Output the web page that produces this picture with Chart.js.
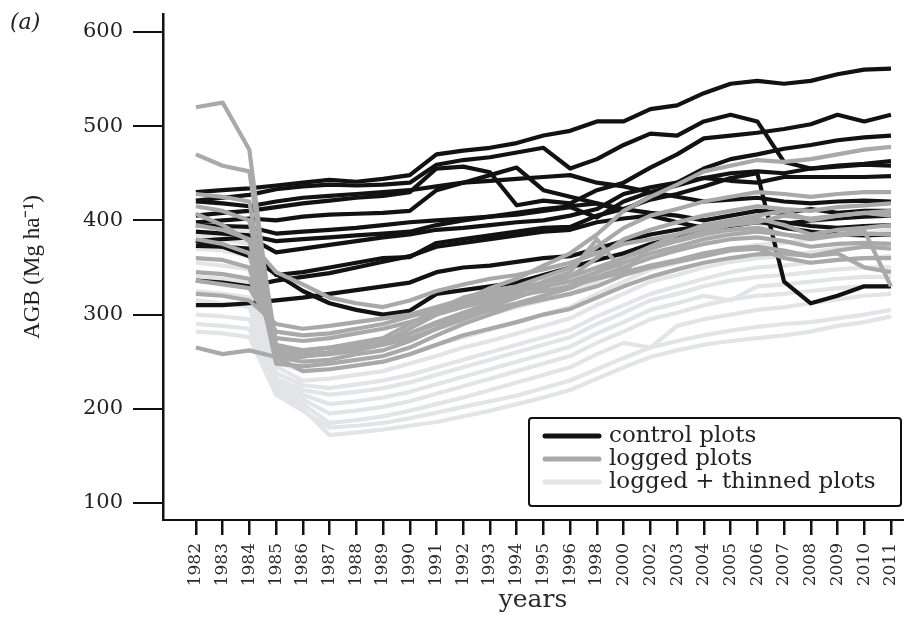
<!DOCTYPE html>
<html>
<head>
<meta charset="utf-8">
<title>AGB by plot treatment</title>
<script src="https://cdn.jsdelivr.net/npm/chart.js@4.4.1/dist/chart.umd.min.js"></script>
<style>
  html, body { margin: 0; padding: 0; background: #fff; }
  #wrap { width: 904px; height: 617px; position: relative; }
</style>
</head>
<body>
<div id="wrap"><canvas id="agbChart"></canvas></div>
<script>
// Census years (1997, 1999 and 2001 were not measured)
const years = ["1982", "1983", "1984", "1985", "1986", "1987", "1988", "1989", "1990", "1991",
  "1992", "1993", "1994", "1995", "1996", "1998", "2000", "2002", "2003", "2004",
  "2005", "2006", "2007", "2008", "2009", "2010", "2011"];

const yTicks = [100, 200, 300, 400, 500, 600];

// Control plots, AGB in Mg/ha, one row per plot
const controlPlots = [
  [430, 432, 434, 437, 440, 443, 441, 444, 448, 470, 474, 477, 482, 490, 495, 505, 505, 518, 522, 535, 545, 548, 545, 548, 555, 560, 561],
  [421, 424, 427, 433, 436, 438, 437, 438, 440, 459, 464, 467, 472, 477, 455, 465, 480, 492, 490, 505, 512, 505, 462, 455, 457, 459, 458],
  [405, 408, 410, 414, 418, 421, 424, 426, 430, 455, 457, 451, 416, 421, 418, 432, 440, 456, 470, 487, 490, 493, 497, 502, 512, 505, 512],
  [398, 400, 402, 400, 404, 406, 407, 408, 410, 432, 440, 448, 456, 432, 425, 418, 410, 425, 440, 455, 465, 470, 476, 480, 485, 488, 490],
  [395, 394, 393, 386, 388, 390, 392, 395, 398, 400, 402, 404, 406, 410, 414, 403, 420, 430, 437, 445, 450, 452, 450, 455, 458, 460, 463],
  [378, 380, 382, 366, 370, 374, 378, 382, 385, 390, 392, 395, 398, 400, 405, 412, 428, 435, 440, 445, 442, 440, 446, 446, 446, 446, 447],
  [373, 372, 370, 342, 345, 350, 355, 360, 361, 376, 380, 384, 388, 392, 393, 405, 412, 422, 428, 436, 445, 450, 335, 312, 320, 330, 330],
  [388, 386, 384, 378, 380, 382, 384, 386, 388, 395, 400, 404, 408, 412, 415, 418, 412, 408, 405, 400, 405, 410, 408, 412, 408, 410, 410],
  [336, 334, 330, 336, 340, 344, 350, 356, 362, 372, 376, 380, 384, 388, 390, 398, 402, 405, 398, 392, 395, 400, 398, 394, 392, 394, 395],
  [420, 418, 415, 420, 424, 426, 428, 430, 432, 436, 440, 442, 444, 446, 448, 440, 436, 430, 425, 420, 422, 424, 420, 418, 420, 421, 420],
  [378, 372, 362, 343, 325, 312, 305, 300, 304, 322, 326, 330, 334, 342, 350, 358, 365, 375, 382, 390, 394, 398, 396, 400, 402, 404, 405],
  [310, 310, 312, 315, 318, 322, 326, 330, 334, 345, 350, 352, 356, 360, 362, 370, 378, 385, 390, 394, 398, 400, 392, 388, 385, 384, 385]
];

// Logged plots
const loggedPlots = [
  [520, 525, 475, 252, 255, 260, 265, 270, 285, 300, 315, 328, 338, 352, 365, 385, 410, 425, 438, 452, 458, 464, 462, 465, 470, 475, 478],
  [470, 458, 452, 268, 262, 265, 270, 275, 290, 305, 318, 325, 330, 340, 350, 372, 392, 405, 412, 420, 425, 430, 428, 425, 428, 430, 430],
  [428, 425, 420, 255, 250, 252, 258, 262, 272, 285, 298, 308, 318, 328, 340, 360, 380, 390, 398, 405, 410, 415, 412, 410, 414, 416, 418],
  [415, 410, 400, 262, 258, 260, 265, 270, 280, 292, 302, 312, 322, 335, 345, 380, 345, 372, 385, 395, 400, 405, 410, 400, 405, 408, 405],
  [407, 395, 378, 345, 332, 318, 312, 308, 315, 325, 332, 338, 342, 348, 355, 365, 375, 380, 385, 392, 398, 402, 395, 385, 390, 392, 395],
  [395, 390, 380, 248, 245, 248, 252, 256, 265, 278, 290, 300, 310, 320, 330, 345, 360, 370, 378, 385, 390, 392, 385, 380, 384, 386, 385],
  [380, 375, 365, 258, 256, 258, 262, 268, 275, 285, 295, 305, 312, 320, 328, 340, 350, 360, 368, 375, 380, 382, 378, 372, 375, 376, 375],
  [360, 358, 350, 265, 262, 265, 268, 272, 280, 290, 298, 305, 310, 316, 322, 330, 342, 350, 356, 362, 368, 370, 360, 355, 358, 360, 360],
  [345, 343, 338, 275, 272, 275, 280, 285, 292, 300, 308, 315, 320, 325, 330, 338, 345, 352, 358, 365, 370, 372, 368, 362, 365, 350, 345],
  [336, 332, 328, 282, 278, 280, 285, 290, 298, 305, 312, 318, 325, 330, 335, 345, 355, 365, 372, 380, 385, 388, 385, 382, 385, 389, 330],
  [322, 320, 315, 290, 285, 288, 292, 296, 300, 308, 316, 322, 328, 334, 340, 350, 360, 372, 380, 388, 395, 398, 405, 402, 405, 408, 410],
  [265, 258, 262, 255, 240, 242, 246, 250, 258, 268, 278, 285, 292, 300, 306, 318, 330, 340, 348, 355, 360, 364, 365, 362, 368, 372, 370]
];

// Logged + thinned plots
const thinnedPlots = [
  [395, 392, 388, 262, 256, 258, 262, 268, 275, 285, 292, 300, 308, 315, 322, 335, 350, 365, 372, 380, 388, 392, 395, 398, 402, 405, 410],
  [385, 380, 375, 250, 240, 242, 246, 250, 258, 268, 276, 284, 292, 300, 308, 322, 335, 348, 355, 362, 370, 374, 376, 380, 384, 386, 390],
  [370, 368, 362, 245, 230, 232, 236, 240, 248, 256, 265, 272, 280, 288, 296, 310, 322, 335, 342, 350, 356, 360, 362, 366, 370, 372, 375],
  [355, 352, 348, 238, 225, 222, 226, 230, 236, 244, 252, 260, 268, 276, 284, 298, 310, 322, 330, 338, 345, 350, 352, 355, 358, 360, 362],
  [340, 338, 335, 232, 220, 215, 218, 222, 228, 236, 244, 252, 260, 268, 276, 290, 302, 315, 322, 330, 336, 340, 342, 345, 348, 350, 350],
  [325, 322, 318, 228, 215, 205, 208, 212, 218, 226, 234, 242, 250, 258, 266, 280, 292, 305, 312, 320, 315, 330, 332, 335, 338, 340, 340],
  [315, 312, 308, 225, 210, 195, 198, 202, 208, 216, 224, 232, 240, 248, 256, 270, 282, 295, 302, 310, 316, 320, 322, 325, 328, 330, 330],
  [300, 298, 295, 222, 205, 185, 188, 192, 198, 205, 212, 220, 228, 236, 244, 258, 270, 265, 288, 295, 300, 305, 308, 312, 316, 320, 322],
  [290, 288, 285, 218, 200, 172, 175, 178, 182, 186, 192, 198, 205, 212, 220, 232, 244, 255, 262, 268, 272, 275, 278, 282, 288, 292, 298],
  [282, 280, 276, 215, 198, 180, 182, 185, 190, 196, 202, 208, 214, 222, 230, 242, 254, 265, 272, 278, 283, 287, 290, 292, 296, 300, 305]
];

const groupNames = ["control plots", "logged plots", "logged + thinned plots"];
const groupColours = ["#121212", "#a9a9a9", "#e2e4e7"];

// Turn one group of plots into line datasets
function makeDatasets(group, name, colour, order) {
  return group.map((values, n) => ({
    label: name + " " + (n + 1),
    data: values.map((v, i) => ({ x: i, y: v })),
    borderColor: colour,
    borderWidth: 4.2,
    pointRadius: 0,
    fill: false,
    tension: 0,
    borderJoinStyle: "round",
    order: order
  }));
}

const datasets = [
  ...makeDatasets(loggedPlots, groupNames[1], groupColours[1], 1),
  ...makeDatasets(controlPlots, groupNames[0], groupColours[0], 2),
  ...makeDatasets(thinnedPlots, groupNames[2], groupColours[2], 3)
];

// Draws the boxed legend in the lower right and the panel letter
const panelExtras = {
  id: "panelExtras",
  afterDraw(chart) {
    const { ctx, chartArea } = chart;
    ctx.save();

    ctx.font = "italic 22px 'DejaVu Serif'";
    ctx.fillStyle = "#222";
    ctx.textBaseline = "middle";
    ctx.textAlign = "left";
    ctx.fillText("(a)", 10, 23);

    const right = chartArea.right - 2;
    const bottom = chartArea.bottom - 14;
    const w = 372, h = 88;
    const left = right - w, top = bottom - h;

    ctx.fillStyle = "#fff";
    ctx.strokeStyle = "#111";
    ctx.lineWidth = 2;
    ctx.beginPath();
    ctx.roundRect(left, top, w, h, 3);
    ctx.fill();
    ctx.stroke();

    ctx.font = "23px 'DejaVu Serif'";
    groupNames.forEach((name, k) => {
      const y = top + 18 + k * 23;
      ctx.strokeStyle = groupColours[k];
      ctx.lineWidth = 5;
      ctx.lineCap = "round";
      ctx.beginPath();
      ctx.moveTo(left + 16, y);
      ctx.lineTo(left + 70, y);
      ctx.stroke();
      ctx.fillStyle = "#222";
      ctx.fillText(name, left + 80, y);
    });
    ctx.restore();
  }
};

new Chart(document.getElementById("agbChart"), {
  type: "line",
  data: { datasets: datasets },
  options: {
    responsive: true,
    maintainAspectRatio: false,
    animation: false,
    layout: { padding: { top: 14, right: 1, bottom: 0, left: 0 } },
    plugins: {
      legend: { display: false },
      tooltip: { enabled: false }
    },
    scales: {
      x: {
        type: "linear",
        min: -1.23,
        max: 26.45,
        afterBuildTicks: (scale) => { scale.ticks = years.map((y, i) => ({ value: i })); },
        afterFit: (scale) => {
          scale.height = 97;
          scale.paddingLeft = 0;
          scale.paddingRight = 0;
        },
        grid: { drawOnChartArea: false, drawTicks: true, tickLength: 15, color: "#111", lineWidth: 2.5 },
        border: { display: true, color: "#111", width: 2 },
        ticks: {
          autoSkip: false,
          minRotation: 90,
          maxRotation: 90,
          padding: 8,
          color: "#2a2a2a",
          font: { family: "DejaVu Serif", size: 17 },
          callback: (value) => years[value]
        },
        title: {
          display: true,
          text: "years",
          color: "#2a2a2a",
          font: { family: "DejaVu Serif", size: 25 },
          padding: { top: 0, bottom: 2 }
        }
      },
      y: {
        min: 82,
        max: 619,
        afterBuildTicks: (scale) => { scale.ticks = yTicks.map(v => ({ value: v })); },
        afterFit: (scale) => {
          scale.width = 163;
          scale.paddingTop = 0;
          scale.paddingBottom = 0;
        },
        grid: { drawOnChartArea: false, drawTicks: true, tickLength: 30, color: "#111", lineWidth: 2 },
        border: { display: true, color: "#111", width: 2.5 },
        ticks: {
          padding: 10,
          color: "#222",
          font: { family: "DejaVu Serif", size: 21 }
        },
        title: {
          display: true,
          text: "AGB (Mg ha⁻¹)",
          color: "#222",
          font: { family: "Liberation Serif", size: 23 },
          padding: { top: 19, bottom: 0 }
        }
      }
    }
  },
  plugins: [panelExtras]
});
</script>
</body>
</html>
